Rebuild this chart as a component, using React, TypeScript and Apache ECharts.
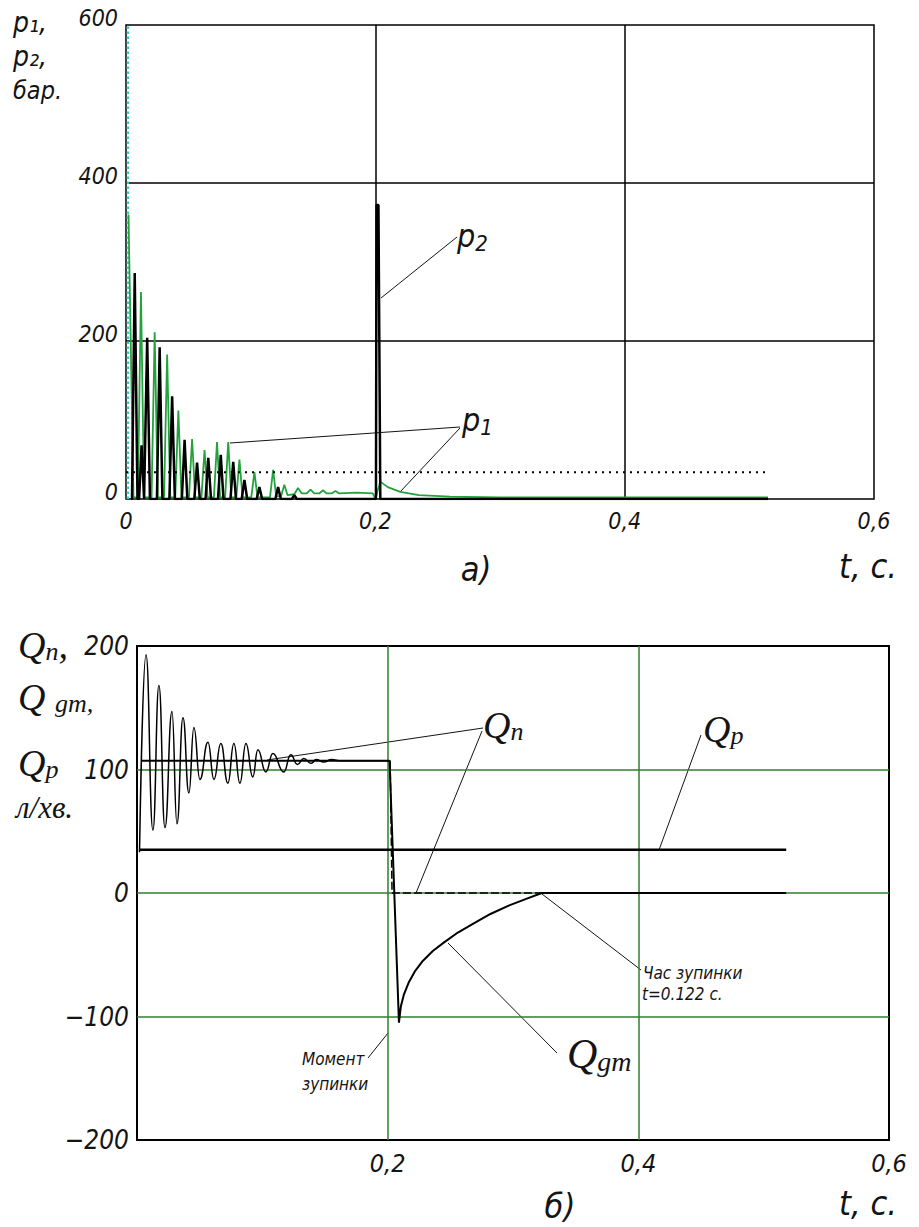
import React, { useEffect, useRef } from "react";
import * as echarts from "echarts";

// ---------- data ----------
const X_TICKS = [0, 0.2, 0.4, 0.6];
const P_TICKS = [0, 200, 400, 600];
const Q_TICKS = [-200, -100, 0, 100, 200];

// p1 (green) pressure, bar
const P1_T = [0.002, 0.006, 0.0095, 0.012, 0.0145, 0.0205, 0.023, 0.0255, 0.0305, 0.033, 0.0355, 0.0395, 0.042, 0.0445, 0.0505, 0.053, 0.0555, 0.0605, 0.063, 0.0655, 0.0705, 0.073, 0.0755, 0.0795, 0.082, 0.0845, 0.0885, 0.091, 0.0935, 0.1005, 0.103, 0.1055, 0.1155, 0.118, 0.1205, 0.1245, 0.127, 0.1295, 0.135, 0.138, 0.141, 0.145, 0.148, 0.151, 0.155, 0.158, 0.161, 0.165, 0.168, 0.171, 0.185, 0.198, 0.2, 0.204, 0.21, 0.22, 0.235, 0.26, 0.3, 0.515];
const P1_V = [360, 2, 2, 262, 2, 2, 211, 2, 2, 183, 2, 2, 112, 2, 2, 76, 2, 2, 62, 2, 2, 72, 2, 2, 72, 2, 2, 50, 2, 2, 34, 2, 2, 37, 3, 4, 18, 5, 6, 14, 7, 7, 12, 7, 7, 11, 7, 7, 10, 7, 8, 7, 0, 22, 15, 9, 5, 3, 2, 2];
// p1 initial surge (dotted cyan)
const P1_START_T = [0.0015, 0.0015];
const P1_START_V = [0, 600];

// p2 (black) pressure, bar
const P2_T = [0.004, 0.0048, 0.007, 0.0092, 0.0105, 0.0125, 0.0145, 0.0148, 0.017, 0.0192, 0.0248, 0.027, 0.0292, 0.0348, 0.037, 0.0392, 0.0448, 0.047, 0.0492, 0.0548, 0.057, 0.0592, 0.0638, 0.066, 0.0682, 0.0738, 0.076, 0.0782, 0.0838, 0.086, 0.0882, 0.0928, 0.095, 0.0972, 0.1048, 0.107, 0.1092, 0.1198, 0.122, 0.1242, 0.133, 0.135, 0.137, 0.2005, 0.201, 0.2025, 0.203, 0.204, 0.515];
const P2_V = [0, 0, 286, 0, 0, 68, 0, 0, 204, 0, 0, 192, 0, 0, 130, 0, 0, 75, 0, 0, 46, 0, 0, 52, 0, 0, 56, 0, 0, 47, 0, 0, 24, 0, 0, 15, 0, 0, 15, 0, 0, 5, 0, 0, 372, 372, 250, 0, 0];

// reference (dotted) pressure level
const PREF_T = [0, 0.513];
const PREF_V = [34, 34];

// Q_p, l/min
const QP_T = [0.002, 0.518];
const QP_V = [35, 35];

// Q_n, l/min
const QN_T = [0.002, 0.0072, 0.0127, 0.0175, 0.0223, 0.0279, 0.0319, 0.0367, 0.0414, 0.0454, 0.0502, 0.0566, 0.0614, 0.0669, 0.0725, 0.0773, 0.0821, 0.0869, 0.0924, 0.0964, 0.1028, 0.1084, 0.1171, 0.1227, 0.128, 0.133, 0.139, 0.143, 0.149, 0.155, 0.163, 0.176, 0.202];
const QN_V = [33, 193, 51, 168, 53, 147, 56, 142, 81, 134, 92, 122, 92, 121, 89, 121, 89, 121, 94, 116, 98, 113, 98, 112, 104, 109, 105, 108, 106, 108, 107, 107, 107];
const QN_STOP_T = [0.202, 0.2035, 0.518];
const QN_STOP_V = [107, 0, 0];

// Q_gm, l/min
const QGM_T = [0.004, 0.2015, 0.209, 0.2105, 0.213, 0.217, 0.222, 0.228, 0.236, 0.245, 0.256, 0.268, 0.282, 0.297, 0.31, 0.323, 0.518];
const QGM_V = [107, 107, -105, -92, -82, -72, -63, -55, -47, -40, -32, -25, -17, -10, -5, 0, 0];

const zip = (t: number[], v: number[]) => t.map((x, i) => [x, v[i]]);

const GOST = "'Liberation Sans Narrow','DejaVu Sans Condensed','Roboto Condensed','Liberation Sans',sans-serif";
const SERIF = "'Liberation Serif','DejaVu Serif',serif";
const INK = "#141414";
const GREEN_GRID = "#2f7f2f";

const fmtX = (show0: boolean) => (v: number) => {
  if (Math.abs(v) < 1e-9) return show0 ? "0" : "";
  return v.toFixed(1).replace(".", ",");
};

function gText(x: number, y: number, text: string, size: number, family: string, extra: any = {}) {
  return {
    type: "text",
    x,
    y,
    style: {
      text,
      font: `italic ${size}px ${family}`,
      fill: INK,
      textAlign: "left",
      textVerticalAlign: "top",
      ...extra,
    },
  };
}

function gRich(x: number, y: number, text: string, main: number, sub: number, family: string, dy = 10) {
  return {
    type: "text",
    x,
    y,
    style: {
      text,
      fill: INK,
      textAlign: "left",
      textVerticalAlign: "top",
      rich: {
        m: { fontSize: main, fontStyle: "italic", fontFamily: family, fill: INK },
        s: { fontSize: sub, fontStyle: "italic", fontFamily: family, fill: INK, padding: [dy, 0, 0, 0] },
      },
    },
  };
}

function lead(x1: number, y1: number, x2: number, y2: number) {
  return { type: "line", shape: { x1, y1, x2, y2 }, style: { stroke: INK, lineWidth: 1 } };
}

export default function App() {
  const ref = useRef<HTMLDivElement>(null);
  useEffect(() => {
    if (!ref.current) return;
    const chart = echarts.init(ref.current, undefined, { renderer: "svg" });
    const axisLabelBase = { fontStyle: "italic", fontFamily: GOST, color: INK };
    const option: any = {
      animation: false,
      backgroundColor: "#fff",
      grid: [
        { left: 126, top: 25, width: 748, height: 474, show: true, borderColor: "#000", borderWidth: 1.5, backgroundColor: "transparent" },
        { left: 137, top: 646, width: 752, height: 494, show: true, borderColor: "#000", borderWidth: 2, backgroundColor: "transparent" },
      ],
      xAxis: [
        {
          gridIndex: 0, type: "value", min: X_TICKS[0], max: X_TICKS[3], interval: 0.2,
          axisLine: { show: false }, axisTick: { show: false },
          axisLabel: { ...axisLabelBase, fontSize: 23, margin: 10, formatter: fmtX(true) },
          splitLine: { show: true, showMinLine: false, showMaxLine: false, lineStyle: { color: "#000", width: 1.5 } },
        },
        {
          gridIndex: 1, type: "value", min: X_TICKS[0], max: X_TICKS[3], interval: 0.2,
          axisLine: { show: false }, axisTick: { show: false },
          axisLabel: { ...axisLabelBase, fontSize: 25, margin: 11, formatter: fmtX(false) },
          splitLine: { show: true, showMinLine: false, showMaxLine: false, lineStyle: { color: GREEN_GRID, width: 1.5 } },
        },
      ],
      yAxis: [
        {
          gridIndex: 0, type: "value", min: P_TICKS[0], max: P_TICKS[3], interval: 200,
          axisLine: { show: false }, axisTick: { show: false },
          axisLabel: { ...axisLabelBase, fontSize: 23, margin: 8, verticalAlign: "bottom", lineHeight: 14 },
          splitLine: { show: true, showMinLine: false, showMaxLine: false, lineStyle: { color: "#000", width: 1.5 } },
        },
        {
          gridIndex: 1, type: "value", min: Q_TICKS[0], max: Q_TICKS[4], interval: 100,
          axisLabel: { ...axisLabelBase, fontSize: 26, margin: 8, formatter: (v: number) => (v < 0 ? "\u2212" + Math.abs(v) : String(v)) },
          axisLine: { show: false }, axisTick: { show: false },
          splitLine: { show: true, showMinLine: false, showMaxLine: false, lineStyle: { color: GREEN_GRID, width: 1.5 } },
        },
      ],
      series: [
        { name: "p1 start", type: "line", xAxisIndex: 0, yAxisIndex: 0, data: zip(P1_START_T, P1_START_V), showSymbol: false, lineStyle: { color: "#40c8c0", width: 2.5, type: "dotted" } },
        { name: "p1", type: "line", xAxisIndex: 0, yAxisIndex: 0, data: zip(P1_T, P1_V), showSymbol: false, lineStyle: { color: "#24a23e", width: 1.8 } },
        { name: "p2", type: "line", xAxisIndex: 0, yAxisIndex: 0, data: zip(P2_T, P2_V), showSymbol: false, lineStyle: { color: "#000", width: 2.5 } },
        { name: "pref", type: "line", xAxisIndex: 0, yAxisIndex: 0, data: zip(PREF_T, PREF_V), showSymbol: false, lineStyle: { color: "#000", width: 2, type: [2, 5] } },
        { name: "Qp", type: "line", xAxisIndex: 1, yAxisIndex: 1, data: zip(QP_T, QP_V), showSymbol: false, lineStyle: { color: "#000", width: 2.5 } },
        { name: "Qgm", type: "line", xAxisIndex: 1, yAxisIndex: 1, data: zip(QGM_T, QGM_V), showSymbol: false, lineStyle: { color: "#000", width: 2 } },
        { name: "Qn", type: "line", xAxisIndex: 1, yAxisIndex: 1, data: zip(QN_T, QN_V), showSymbol: false, smooth: 0.5, smoothMonotone: "x", lineStyle: { color: "#000", width: 1.5 } },
        { name: "Qn stop", type: "line", xAxisIndex: 1, yAxisIndex: 1, data: zip(QN_STOP_T, QN_STOP_V), showSymbol: false, lineStyle: { color: "#000", width: 1.5, type: [8, 3] } },
      ],
      graphic: [
        // top chart labels
        gText(13, 8, "p\u2081,", 28, GOST),
        gText(13, 42, "p\u2082,", 28, GOST),
        gText(13, 78, "бар.", 25, GOST),
        gRich(457, 218, "{m|p}{s|2}", 32, 22, GOST, 14),
        gRich(462, 402, "{m|p}{s|1}", 32, 22, GOST, 14),
        lead(381, 298, 457, 237),
        lead(230, 443, 460, 427),
        lead(400, 492, 460, 428),
        gText(476, 569, "а)", 34, GOST, { textAlign: "center", textVerticalAlign: "middle" }),
        gText(868, 566, "t, с.", 34, GOST, { textAlign: "center", textVerticalAlign: "middle" }),
        // bottom chart labels
        gRich(18, 626, "{m|Q}{s|n}{m|,}", 38, 26, SERIF, 12),
        gRich(18, 678, "{m|Q }{s|gm,}", 38, 26, SERIF, 12),
        gRich(18, 744, "{m|Q}{s|p}", 38, 26, SERIF, 12),
        gText(16, 792, "л/хв.", 31, SERIF),
        gRich(483, 706, "{m|Q}{s|n}", 38, 26, SERIF, 12),
        gRich(703, 710, "{m|Q}{s|p}", 38, 26, SERIF, 12),
        gRich(567, 1033, "{m|Q}{s|gm}", 42, 28, SERIF, 14),
        lead(267, 760, 483, 728),
        lead(416, 893, 482, 731),
        lead(659, 850, 701, 735),
        lead(448, 943, 557, 1053),
        lead(542, 894, 641, 970),
        lead(368, 1058, 388, 1033),
        gText(643, 964, "Час зупинки", 17, GOST),
        gText(642, 985, "t=0.122 с.", 17, GOST),
        gText(302, 1050, "Момент", 17, GOST),
        gText(302, 1075, "зупинки", 17, GOST),
        gText(560, 1206, "б)", 34, GOST, { textAlign: "center", textVerticalAlign: "middle" }),
        gText(868, 1203, "t, с.", 34, GOST, { textAlign: "center", textVerticalAlign: "middle" }),
      ],
    };
    chart.setOption(option);
    return () => chart.dispose();
  }, []);
  return <div ref={ref} style={{ position: "fixed", left: 0, top: 0, width: 919, height: 1227, background: "#fff" }} />;
}
